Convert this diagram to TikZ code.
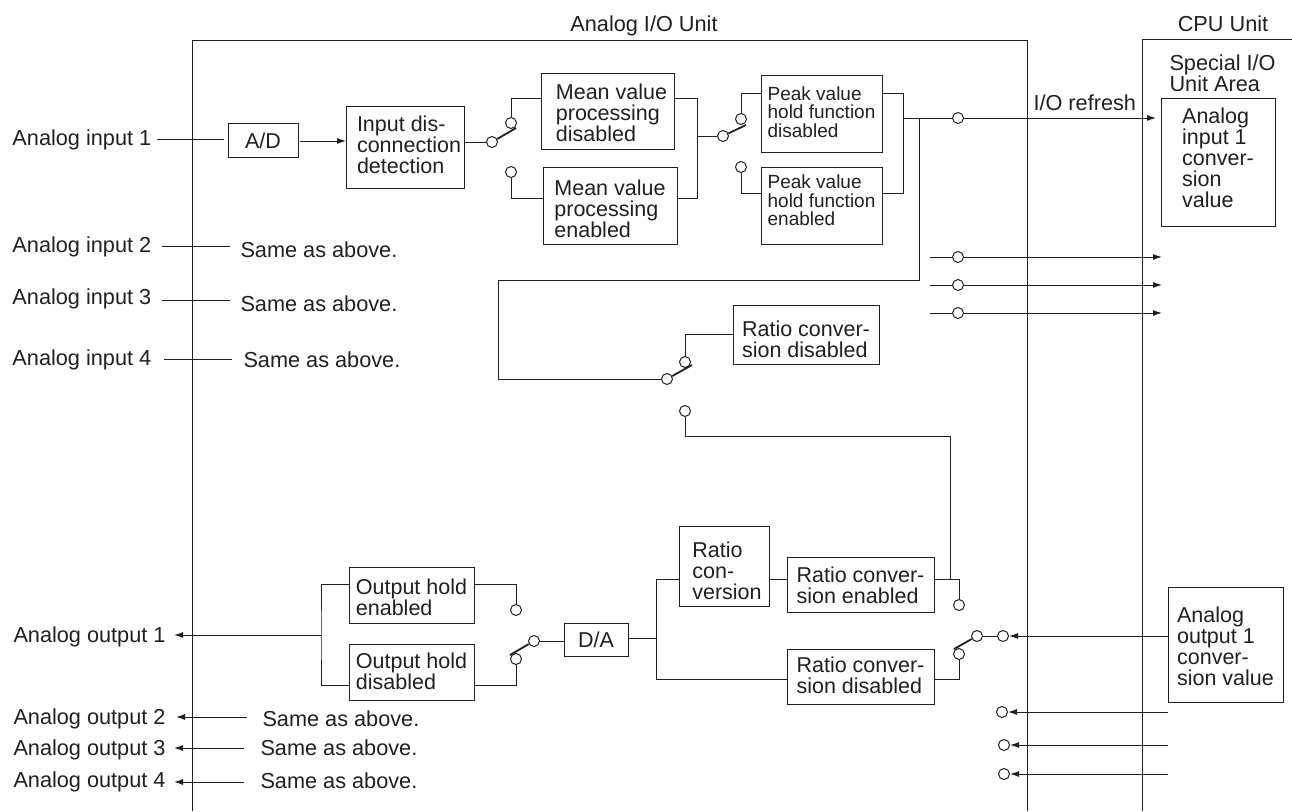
\documentclass[tikz,border=0pt]{standalone}
\usepackage{fontspec}
\setmainfont{Liberation Sans}
\usetikzlibrary{positioning,arrows.meta}
\definecolor{ink}{HTML}{231F20}
\newcommand{\toppad}[1]{\rule{0pt}{#1pt}}
\newcommand{\botpad}[1]{\rule[-#1pt]{0pt}{#1pt}}

\begin{document}
\begin{tikzpicture}[
x=1pt, y=-1pt, ink, line width=1pt,
block/.style={draw, align=left, inner sep=0pt, font=\fontsize{21.5}{21}\selectfont},
smallblock/.style={draw, align=left, inner sep=0pt, font=\fontsize{19}{18.5}\selectfont},
lbl/.style={anchor=west, align=left, inner sep=0pt, font=\fontsize{21.7}{21}\selectfont},
term/.style={circle, draw, fill=white, minimum size=11pt, inner sep=0pt},
arm/.style={line width=1.8pt},
arr/.style={-{Latex[length=9pt,width=6pt]}}
]
\useasboundingbox (0,0) rectangle (1292,811);
% unit frames
\coordinate (iotop) at (192.5,40);
\coordinate (iobot) at (192.5,811);
\coordinate (iotopr) at (1027,40);
\coordinate (iobotr) at (1027,811);
\coordinate (cputop) at (1292,39);
\coordinate (cpubot) at (1142,811);
\draw (iobot) -- (iotop) -- (iotopr) -- (iobotr);
\draw (cpubot) |- (cputop);
\node[lbl, anchor=center] (iotitle) at (644,26) {Analog I/O Unit};
\node[lbl, anchor=center] (cputitle) at (1223,24) {CPU Unit};
\node[lbl] (area) at (1169,73) {Special I/O\\Unit Area};

% input chain
\node[lbl] (in1) at (12,140) {Analog input 1};
\node[block, minimum width=70pt, minimum height=34pt] (ad) at (263,140) {\toppad{17.6}A/D};
\node[block, minimum width=118pt, minimum height=82pt] (det) at (405,147) {\hspace*{8pt}Input dis-\\\hspace*{8pt}connection\\\hspace*{8pt}detection\botpad{4}};
\node[block, minimum width=133pt, minimum height=76pt] (meandis) at (607.5,111) {\hspace*{8pt}\toppad{19.6}Mean value\\\hspace*{8pt}processing\\\hspace*{8pt}disabled};
\node[block, minimum width=134pt, minimum height=77pt] (meanen) at (610,205.5) {\toppad{21.6}Mean value\\processing\\enabled};
\node[smallblock, minimum width=121pt, minimum height=77pt] (peakdis) at (821.5,113.5) {Peak value\\hold function\\disabled\botpad{3}};
\node[smallblock, minimum width=121pt, minimum height=77pt] (peaken) at (821.5,205.5) {Peak value\\hold function\\enabled\botpad{10}};
\node[block, minimum width=146pt, minimum height=59pt] (ratiotop) at (806,334.5) {\toppad{25.6}Ratio conver-\\sion disabled};
\node[block, minimum width=114pt, minimum height=128pt] (cpuin) at (1218,162) {Analog\\input 1\\conver-\\sion\\value\botpad{9}};

\node[term] (swapole) at (492,142) {};
\node[term] (swaup) at (511,123) {};
\node[term] (swalow) at (511,172) {};
\node[term] (swbpole) at (723,136) {};
\node[term] (swbup) at (741,119) {};
\node[term] (swblow) at (741,167) {};
\node[term] (swcpole) at (667,379) {};
\node[term] (swcup) at (685,362) {};
\node[term] (swclow) at (685,411) {};
\coordinate (jmean) at (697,136);
\coordinate (jpeak) at (903,118);
\coordinate (jback) at (919,118);
\coordinate (cback) at (498,280);
\coordinate (armaend) at (516,128);
\coordinate (armbend) at (746,125);
\coordinate (armcend) at (692,365);
\coordinate (in1a) at (157,139);
\coordinate (in1b) at (224,139);
\coordinate (adout) at (300,141);
\coordinate (detin) at (346,141);

\draw (in1a) -- (in1b);
\draw[arr] (adout) -- (detin);
\draw (det.east |- swapole) -- (swapole);
\draw (swaup) |- ([yshift=13pt]meandis.west);
\draw (swalow) |- ([yshift=7.5pt]meanen.west);
\draw ([yshift=13pt]meandis.east) -| (jmean) |- ([yshift=7.5pt]meanen.east);
\draw (jmean) -- (swbpole);
\draw (swbup) |- ([yshift=20.5pt]peakdis.west);
\draw (swblow) |- ([yshift=12.5pt]peaken.west);
\draw ([yshift=20.5pt]peakdis.east) -| (jpeak) |- ([yshift=12.5pt]peaken.east);
\draw (jback) |- (cback) |- (swcpole);
\draw (swcup) |- (ratiotop.west);
\draw[arm] (swapole) -- (armaend);
\draw[arm] (swbpole) -- (armbend);
\draw[arm] (swcpole) -- (armcend);

% refresh lines
\node[term] (ref1) at (958,118) {};
\node[lbl] (refresh) at (1033,103) {I/O refresh};
\coordinate (ref1end) at (1156,118);
\draw (jpeak) -- (ref1);
\draw[arr] (ref1) -- (ref1end);
\foreach \n/\ry in {2/257,3/285,4/313} {
  \coordinate (refa\n) at (930,\ry);
  \coordinate (refb\n) at (1162,\ry);
  \node[term] (ref\n) at (958,\ry) {};
  \draw (refa\n) -- (ref\n);
  \draw[arr] (ref\n) -- (refb\n);
}

% other inputs
\foreach \n/\ty/\ly/\sy/\xa/\xb/\xs in {2/247/246/250/162/230/240,3/299/300/304/162/230/240,4/360/359/360/164/232/243} {
  \node[lbl] (in\n) at (12,\ty) {Analog input \n};
  \node[lbl] (same\n) at (\xs,\sy) {Same as above.};
  \coordinate (ina\n) at (\xa,\ly);
  \coordinate (inb\n) at (\xb,\ly);
  \draw (ina\n) -- (inb\n);
}

% output chain
\node[lbl] (out1) at (13,637) {Analog output 1};
\node[block, minimum width=125pt, minimum height=56pt] (holden) at (411.5,595) {\toppad{19.6}Output hold\\enabled};
\node[block, minimum width=125pt, minimum height=56pt] (holddis) at (411.5,672) {Output hold\\disabled\botpad{2}};
\node[block, minimum width=64pt, minimum height=33pt] (da) at (596,639.5) {D/A};
\node[block, minimum width=90pt, minimum height=80pt] (ratioconv) at (724,566) {\hspace*{6pt}\toppad{25.6}Ratio\\\hspace*{6pt}con-\\\hspace*{6pt}version};
\node[block, minimum width=147pt, minimum height=55pt] (ratioen) at (860.5,584.5) {\toppad{17.6}Ratio conver-\\sion enabled};
\node[block, minimum width=147pt, minimum height=55pt] (ratiodis) at (860.5,676.5) {Ratio conver-\\sion disabled\botpad{2}};
\node[block, minimum width=115pt, minimum height=115pt] (cpuout) at (1225.5,644.5) {\toppad{19.6}Analog\\output 1\\conver-\\sion value};

\node[term] (swdpole) at (534,641) {};
\node[term] (swdup) at (516,610) {};
\node[term] (swdlow) at (516,659) {};
\node[term] (swepole) at (977,636) {};
\node[term] (sweup) at (959,605) {};
\node[term] (swelow) at (959,654) {};
\node[term] (outterm1) at (1003,636) {};
\coordinate (armdend) at (510,655);
\coordinate (armeend) at (954,649);
\coordinate (jhold) at (321,635);
\coordinate (jda) at (656,638);
\coordinate (out1end) at (174,635);
\coordinate (jfeed) at (950,579);
\coordinate (cfeed) at (950,436);

\draw[arr] (jhold) -- (out1end);
\draw ([yshift=11pt]holden.west) -| (jhold) |- ([yshift=-13pt]holddis.west);
\draw ([yshift=11pt]holden.east) -| (swdup);
\draw ([yshift=-13pt]holddis.east) -| (swdlow);
\draw (swdpole) -- (da.west |- swdpole);
\draw (da.east |- jda) -- (jda);
\draw ([yshift=-13pt]ratioconv.west) -| (jda) |- ([yshift=-2.5pt]ratiodis.west);
\draw ([yshift=-13pt]ratioconv.east) -- ([yshift=5.5pt]ratioen.west);
\draw ([yshift=5.5pt]ratioen.east) -| (sweup);
\draw ([yshift=-2.5pt]ratiodis.east) -| (swelow);
\draw (swclow) |- (cfeed) -- (jfeed);
\draw (swepole) -- (outterm1);
\draw[arm] (swdpole) -- (armdend);
\draw[arm] (swepole) -- (armeend);
\draw[arr] (cpuout.west |- outterm1) -- (outterm1);

% other outputs
\foreach \n/\ty/\ly/\sy/\xa/\xb/\xs in {2/719/717/719/247/176/262,3/750/748/748/244/174/260,4/782/782/781/244/174/260} {
  \node[lbl] (out\n) at (13,\ty) {Analog output \n};
  \node[lbl] (osame\n) at (\xs,\sy) {Same as above.};
  \coordinate (outa\n) at (\xa,\ly);
  \coordinate (outb\n) at (\xb,\ly);
  \draw[arr] (outa\n) -- (outb\n);
}
\foreach \n/\ry/\rx in {2/712/1002,3/745/1004,4/774/1004} {
  \node[term] (outterm\n) at (\rx,\ry) {};
  \coordinate (outsrc\n) at (1168,\ry);
  \draw[arr] (outsrc\n) -- (outterm\n);
}
\end{tikzpicture}
\end{document}
